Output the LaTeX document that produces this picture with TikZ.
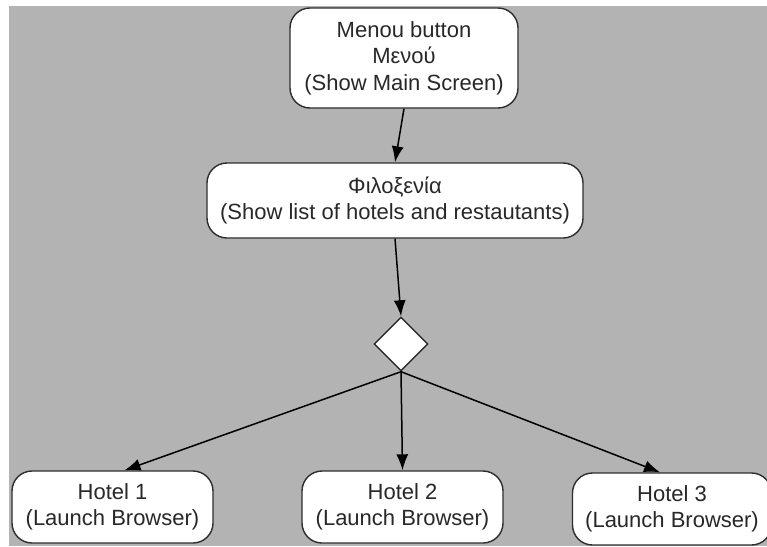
\documentclass[tikz,border=0pt]{standalone}
\usepackage{fontspec}
\setmainfont{Liberation Sans}
\usetikzlibrary{shapes.geometric,arrows.meta}
\definecolor{canvas}{RGB}{179,179,179}
\definecolor{edge}{RGB}{45,45,45}
\definecolor{ink}{RGB}{40,40,40}
\tikzset{
  stepbox/.style={draw=edge, fill=white, line width=1.4pt, rounded corners=20pt,
    align=center, text=ink, inner sep=0pt,
    font=\fontsize{22}{26.5}\selectfont},
  choice/.style={draw=edge, fill=white, line width=1.4pt, diamond, aspect=1,
    inner sep=0pt, minimum width=54pt, minimum height=54pt},
  flow/.style={draw=black, line width=1.5pt, -{Latex[length=16pt,width=12pt]}}
}
\begin{document}
\begin{tikzpicture}[x=1pt,y=-1pt]
  \useasboundingbox (0,0) rectangle (767,546);
  \clip (0,0) rectangle (767,546);
  \fill[white] (0,0) rectangle (767,546);
  \fill[canvas] (9,6) rectangle (767,546);

  \node[stepbox, minimum width=228pt, minimum height=100pt] (menu) at (404,58)
    {Menou button\\Μενού\\(Show Main Screen)};
  \node[stepbox, minimum width=376pt, minimum height=75pt] (phil) at (395,200.5)
    {Φιλοξενία\\(Show list of hotels and restautants)};
  \node[choice] (split) at (401,344) {};
  \node[stepbox, minimum width=201pt, minimum height=72pt] (h1) at (112.5,507)
    {Hotel 1\\(Launch Browser)};
  \node[stepbox, minimum width=201pt, minimum height=72pt] (h2) at (402.5,507)
    {Hotel 2\\(Launch Browser)};
  \node[stepbox, minimum width=199pt, minimum height=72pt] (h3) at (672,509)
    {Hotel 3\\(Launch Browser)};

  \draw[flow] (menu.south) -- (phil.north);
  \draw[flow] (phil.south) -- (split.north);
  \draw[flow] (split.south) -- ([xshift=12pt]h1.north);
  \draw[flow] (split.south) -- (h2.north);
  \draw[flow] (split.south) -- ([xshift=-12pt]h3.north);
\end{tikzpicture}
\end{document}
